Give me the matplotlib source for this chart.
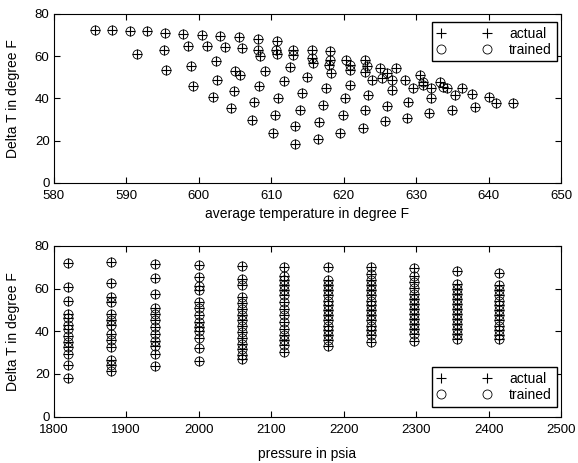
import matplotlib
matplotlib.use("Agg")
import matplotlib.pyplot as plt
import numpy as np

plt.rcParams['font.family'] = ['Liberation Sans', 'DejaVu Sans']
plt.rcParams['font.size'] = 10

# average temperature (deg F) vs delta T (deg F)
avg_temp = [
    585.7, 588.0, 590.5, 592.9, 595.4, 597.8, 600.4, 602.9, 605.6, 608.2, 610.8,
    591.5, 595.2, 598.5, 601.1, 603.6, 595.5, 598.9, 602.4, 599.2, 602.5, 605.0,
    601.9, 604.9, 604.4,
    605.9, 608.2, 608.5, 610.7, 610.8, 613.0, 613.0, 612.6, 615.6, 615.6, 615.8,
    618.1, 618.1, 618.0, 618.2, 620.3, 620.9, 622.9, 623.2, 623.9, 625.0, 626.0,
    627.2, 626.6, 626.6, 626.0, 625.7, 605.7, 609.1, 611.7, 614.9, 617.6, 620.8,
    608.3, 611.0, 614.3, 617.1, 620.2, 623.3, 607.6, 610.5, 613.9, 616.6, 619.9,
    622.9, 607.3, 610.3, 613.3, 616.4, 619.5, 622.7, 613.3,
    620.9, 623.0, 625.3, 628.5, 631.0, 633.7,
    630.5, 629.6, 628.9, 628.7, 631.0, 633.3, 632.1, 634.2, 632.1, 631.8, 636.3,
    635.4, 637.7, 634.9, 638.1, 640.0, 641.0, 643.3,
]
delta_t_temp = [
    72.6, 72.6, 72.1, 71.8, 71.1, 70.7, 70.2, 69.4, 68.9, 68.1, 67.3,
    61.0, 63.1, 64.7, 64.7, 64.2, 53.3, 55.2, 57.9, 45.7, 48.8, 52.8,
    40.5, 43.6, 35.4,
    63.9, 63.1, 59.9, 63.1, 61.0, 63.1, 60.7, 54.7, 63.1, 59.1, 56.8,
    62.3, 58.3, 56.0, 52.0, 58.3, 56.0, 58.3, 55.2, 48.8, 54.4, 52.0,
    54.3, 48.8, 44.1, 36.2, 29.1, 51.2, 53.1, 48.1, 50.0, 44.9, 46.5,
    45.7, 40.2, 42.5, 37.0, 40.2, 41.4, 38.3, 32.2, 34.6, 28.8, 32.2,
    34.6, 29.9, 23.6, 26.7, 20.9, 23.6, 25.9, 18.3,
    53.4, 52.6, 49.6, 48.8, 46.4, 45.5,
    51.1, 45.0, 38.4, 30.5, 47.9, 47.9, 44.8, 44.8, 40.0, 32.9, 44.8,
    41.6, 41.9, 34.5, 36.0, 40.8, 37.6, 37.6,
]

# pressure (psia) levels and the delta T values measured at each
pressure_levels = [1820, 1879, 1940, 2000, 2060, 2118, 2178, 2237, 2297, 2356, 2414]
delta_t_cols = [
    [72.2, 60.5, 54.1, 48.0, 46.0, 42.9, 40.9, 37.8, 35.1, 32.5, 29.3, 24.2, 18.0],
    [72.4, 62.7, 56.0, 53.7, 48.2, 45.1, 43.0, 38.8, 35.7, 32.6, 26.4, 24.0, 21.2],
    [71.5, 64.8, 57.3, 51.0, 48.0, 45.5, 42.0, 38.9, 35.4, 33.1, 29.2, 23.8],
    [71.0, 65.5, 61.3, 59.5, 53.8, 51.0, 47.7, 44.4, 42.0, 40.0, 37.0, 32.0, 26.3],
    [70.5, 64.6, 61.5, 56.0, 53.3, 50.5, 47.7, 45.1, 42.4, 39.6, 36.8, 34.2,
     31.5, 28.7, 27.1],
    [70.0, 66.1, 63.8, 61.5, 59.1, 56.8, 53.7, 50.5, 47.4, 44.3, 41.2, 38.1,
     35.7, 33.4, 30.3],
    [70.0, 63.8, 61.5, 59.1, 56.8, 54.4, 52.1, 49.8, 47.4, 45.1, 42.7, 40.4,
     38.1, 35.7, 33.0],
    [70.0, 66.9, 63.8, 61.5, 59.1, 56.8, 54.4, 52.1, 49.8, 47.4, 45.1, 42.7,
     40.4, 38.1, 35.0],
    [69.6, 66.1, 63.0, 60.2, 57.6, 55.2, 52.9, 50.5, 48.2, 45.9, 43.5, 41.2,
     38.9, 35.5],
    [68.2, 62.2, 59.9, 57.6, 55.2, 52.9, 50.5, 48.2, 45.9, 43.5, 41.2, 38.9, 36.5],
    [67.2, 61.5, 59.1, 56.8, 54.4, 52.1, 49.8, 47.4, 45.1, 42.7, 40.4, 38.1, 36.3],
]

pressure_x = np.concatenate([[p] * len(c) for p, c in zip(pressure_levels, delta_t_cols)])
pressure_y = np.concatenate(delta_t_cols)

fig = plt.figure(figsize=(5.78, 4.63), dpi=100)
ax1 = fig.add_axes([0.093, 0.605, 0.878, 0.365])
ax2 = fig.add_axes([0.093, 0.100, 0.878, 0.369])

plus_kw = dict(linestyle='none', marker='+', color='black', markersize=6.5, markeredgewidth=0.8)
circ_kw = dict(linestyle='none', marker='o', color='black', markerfacecolor='none',
               markersize=6.5, markeredgewidth=0.6)


def draw(ax, x, y, loc, anchor):
    ax.plot(x, y, label='actual', **plus_kw)
    ax.plot(x, y, label='trained', **circ_kw)
    leg = ax.legend(loc=loc, bbox_to_anchor=anchor, borderaxespad=0, numpoints=2,
                    handlelength=3.9, handletextpad=1.3, labelspacing=0.15,
                    borderpad=0.35, fancybox=False, framealpha=1, edgecolor='black',
                    fontsize=10)
    leg.get_frame().set_linewidth(1.0)
    ax.set_ylim(0, 80)
    ax.set_yticks([0, 20, 40, 60, 80])
    ax.set_ylabel('Delta T in degree F', labelpad=11)
    ax.tick_params(direction='in', top=True, right=True, length=4, width=0.8,
                   labelsize=9.5, pad=3)
    ax.tick_params(axis='x', pad=5)
    for s in ax.spines.values():
        s.set_linewidth(0.8)


draw(ax1, avg_temp, delta_t_temp, 'upper right', (0.9915, 0.954))
ax1.set_xlim(580, 650)
ax1.set_xticks(np.arange(580, 651, 10))
ax1.set_xlabel('average temperature in degree F', labelpad=4)

draw(ax2, pressure_x, pressure_y, 'lower right', (0.9915, 0.058))
ax2.set_xlim(1800, 2500)
ax2.set_xticks(np.arange(1800, 2501, 100))
ax2.set_xlabel('pressure in psia', labelpad=8)

fig.savefig('out.png', dpi=100)
